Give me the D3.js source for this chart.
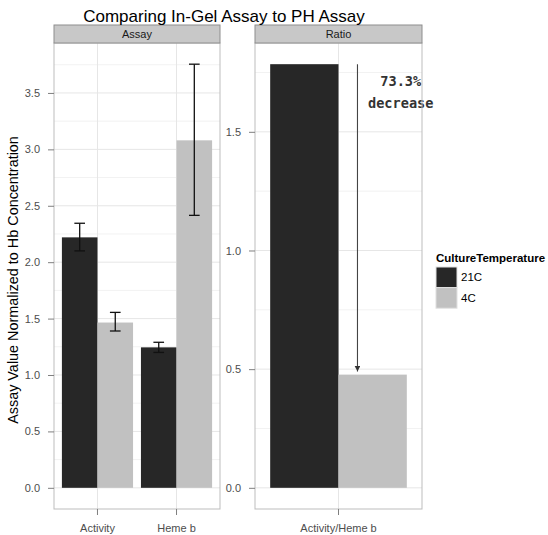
<!DOCTYPE html>
<html>
<head>
<meta charset="utf-8">
<script src="https://cdn.jsdelivr.net/npm/d3@7"></script>
<style>
    body { margin: 0; background: #fff; }
    text { font-family: "Liberation Sans", Arial, sans-serif; }
</style>
</head>
<body>
<div class="chart-container"></div>
<script>
/* data */
const assayCategories = ["Activity", "Heme b"];
const ratioCategories = ["Activity/Heme b"];
const temperatures = ["21C", "4C"];

const assay21C = [2.22, 1.245];
const assay4C = [1.465, 3.08];
const assayLow21C = [2.10, 1.20];
const assayHigh21C = [2.345, 1.29];
const assayLow4C = [1.39, 2.415];
const assayHigh4C = [1.555, 3.755];

const ratio21C = [1.785];
const ratio4C = [0.477];

const assayTicks = [0, 0.5, 1, 1.5, 2, 2.5, 3, 3.5];
const ratioTicks = [0, 0.5, 1, 1.5];

/* annotation in data units (x = discrete position) */
const arrowFrom = [1.125, 1.785];
const arrowTo = [1.125, 0.49];
const noteAt = [1.41, 1.66];
const noteLines = ["73.3%", "decrease"];

const colors = { "21C": "#272727", "4C": "#c1c1c1" };

/* svg */
const svg_width = 548;
const svg_height = 535;
const svg = d3.select(".chart-container").append("svg")
    .attr("width", svg_width).attr("height", svg_height);

const panelTop = 43;
const panelBottom = 509;
const stripTop = 25;
const panels = [
    { name: "Assay", left: 54, right: 220, cats: assayCategories, ticks: assayTicks,
      rows: temperatures.map(t => ({
          temp: t,
          values: t === "21C" ? assay21C : assay4C,
          low: t === "21C" ? assayLow21C : assayLow4C,
          high: t === "21C" ? assayHigh21C : assayHigh4C
      })) },
    { name: "Ratio", left: 255, right: 422, cats: ratioCategories, ticks: ratioTicks,
      rows: temperatures.map(t => ({
          temp: t,
          values: t === "21C" ? ratio21C : ratio4C
      })) }
];

panels.forEach((p, pi) => {
    const yMax = d3.max(p.rows, r => d3.max(r.high || r.values));
    const pad = yMax * 0.05;
    const yScale = d3.scaleLinear().domain([-pad, yMax + pad]).range([panelBottom, panelTop]);
    const xScale = d3.scaleBand().domain(p.cats).range([p.left, p.right])
        .paddingInner(0.1).paddingOuter(0.1);
    const inner = d3.scaleBand().domain(temperatures).range([0, xScale.bandwidth()]);
    const xCont = u => xScale(p.cats[0]) + xScale.bandwidth() / 2 + (u - 1) * xScale.step();

    const g = svg.append("g").attr("class", "panel");

    /* background grid */
    const minor = d3.range(p.ticks.length - 1).map(i => (p.ticks[i] + p.ticks[i + 1]) / 2);
    minor.push(p.ticks[p.ticks.length - 1] + 0.25);
    g.selectAll(".minor").data(minor.filter(v => yScale(v) > panelTop)).join("line")
        .attr("x1", p.left).attr("x2", p.right)
        .attr("y1", d => yScale(d)).attr("y2", d => yScale(d))
        .attr("stroke", "#f2f2f2").attr("stroke-width", 1);
    g.selectAll(".major").data(p.ticks).join("line")
        .attr("x1", p.left).attr("x2", p.right)
        .attr("y1", d => yScale(d)).attr("y2", d => yScale(d))
        .attr("stroke", "#e6e6e6").attr("stroke-width", 1);
    g.selectAll(".vmajor").data(p.cats).join("line")
        .attr("x1", d => xScale(d) + xScale.bandwidth() / 2)
        .attr("x2", d => xScale(d) + xScale.bandwidth() / 2)
        .attr("y1", panelTop).attr("y2", panelBottom)
        .attr("stroke", "#e6e6e6").attr("stroke-width", 1);

    /* bars */
    p.rows.forEach(r => {
        g.selectAll(null).data(p.cats).join("rect")
            .attr("x", d => xScale(d) + inner(r.temp))
            .attr("width", inner.bandwidth())
            .attr("y", (d, i) => yScale(r.values[i]))
            .attr("height", (d, i) => yScale(0) - yScale(r.values[i]))
            .attr("fill", colors[r.temp]);
    });

    /* error bars */
    p.rows.filter(r => r.low).forEach(r => {
        const cx = d => xScale(d) + inner(r.temp) + inner.bandwidth() / 2;
        const cw = inner.bandwidth() * 0.15;
        const eg = g.selectAll(null).data(p.cats).join("g");
        eg.append("line").attr("x1", cx).attr("x2", cx)
            .attr("y1", (d, i) => yScale(r.low[i])).attr("y2", (d, i) => yScale(r.high[i]));
        eg.append("line").attr("x1", d => cx(d) - cw).attr("x2", d => cx(d) + cw)
            .attr("y1", (d, i) => yScale(r.low[i])).attr("y2", (d, i) => yScale(r.low[i]));
        eg.append("line").attr("x1", d => cx(d) - cw).attr("x2", d => cx(d) + cw)
            .attr("y1", (d, i) => yScale(r.high[i])).attr("y2", (d, i) => yScale(r.high[i]));
        eg.selectAll("line").attr("stroke", "#111").attr("stroke-width", 1.3);
    });

    /* annotation on ratio panel */
    if (p.name === "Ratio") {
        svg.append("defs").append("marker")
            .attr("id", "arrowhead").attr("viewBox", "0 0 10 10")
            .attr("refX", 10).attr("refY", 5)
            .attr("markerWidth", 6).attr("markerHeight", 6)
            .attr("markerUnits", "userSpaceOnUse")
            .attr("orient", "auto")
            .append("path").attr("d", "M0,0L10,5L0,10z").attr("fill", "#333");
        g.append("line")
            .attr("x1", xCont(arrowFrom[0])).attr("y1", yScale(arrowFrom[1]))
            .attr("x2", xCont(arrowTo[0])).attr("y2", yScale(arrowTo[1]))
            .attr("stroke", "#444").attr("stroke-width", 1.1)
            .attr("marker-end", "url(#arrowhead)");
        g.append("text")
            .attr("x", xCont(noteAt[0])).attr("y", yScale(noteAt[1]))
            .attr("text-anchor", "middle")
            .style("font-family", "'DejaVu Sans Mono', monospace")
            .style("font-size", "13.6px").style("font-weight", "bold").attr("fill", "#333")
            .selectAll("tspan").data(noteLines).join("tspan")
            .attr("x", xCont(noteAt[0]))
            .attr("dy", (d, i) => i === 0 ? -8 : 22.6)
            .text(d => d);
    }

    /* panel border */
    g.append("rect").attr("x", p.left).attr("y", panelTop)
        .attr("width", p.right - p.left).attr("height", panelBottom - panelTop)
        .attr("fill", "none").attr("stroke", "#bdbdbd");

    /* strip */
    g.append("rect").attr("x", p.left).attr("y", stripTop)
        .attr("width", p.right - p.left).attr("height", panelTop - stripTop)
        .attr("fill", "#c8c8c8").attr("stroke", "#8e8e8e");
    g.append("text").attr("x", (p.left + p.right) / 2).attr("y", (stripTop + panelTop) / 2)
        .attr("dy", "0.35em").attr("text-anchor", "middle")
        .style("font-size", "11px").attr("fill", "#1a1a1a").text(p.name);

    /* axes */
    const yAxis = d3.axisLeft(yScale).tickValues(p.ticks).tickFormat(d3.format(".1f"))
        .tickSize(6).tickPadding(8);
    const yAxisDraw = svg.append("g").attr("transform", `translate(${p.left},0)`).call(yAxis);
    const xAxis = d3.axisBottom(xScale).tickSize(6).tickPadding(9);
    const xAxisDraw = svg.append("g").attr("transform", `translate(0,${panelBottom})`).call(xAxis);
    [yAxisDraw, xAxisDraw].forEach(a => {
        a.select(".domain").remove();
        a.selectAll(".tick line").attr("stroke", "#7f7f7f");
        a.selectAll(".tick text").attr("fill", "#4d4d4d")
            .style("font-size", "11px")
            .style("font-family", "'Liberation Sans', Arial, sans-serif");
    });
});

/* title */
svg.append("text").attr("x", 224).attr("y", 22).attr("text-anchor", "middle")
    .style("font-size", "17px").attr("fill", "#000")
    .text("Comparing In-Gel Assay to PH Assay");

/* y axis label */
svg.append("text").attr("transform", `translate(18,${(panelTop + panelBottom) / 2 + 4}) rotate(-90)`)
    .attr("text-anchor", "middle").style("font-size", "14.4px").attr("fill", "#000")
    .text("Assay Value Normalized to Hb Concentration");

/* legend */
const legend = svg.append("g").attr("transform", "translate(436,262)");
legend.append("text").attr("x", 0).attr("y", 0)
    .style("font-size", "11.5px").style("font-weight", "bold").text("CultureTemperature");
const keys = legend.selectAll(".key").data(temperatures).join("g")
    .attr("transform", (d, i) => `translate(0,${5 + i * 20.6})`);
keys.append("rect").attr("width", 21).attr("height", 20.6)
    .attr("fill", d => colors[d]).attr("stroke", "#e0e0e0").attr("stroke-width", 1);
keys.append("text").attr("x", 25).attr("y", 10.3).attr("dy", "0.35em")
    .style("font-size", "11.5px").attr("fill", "#000").text(d => d);
</script>
</body>
</html>
